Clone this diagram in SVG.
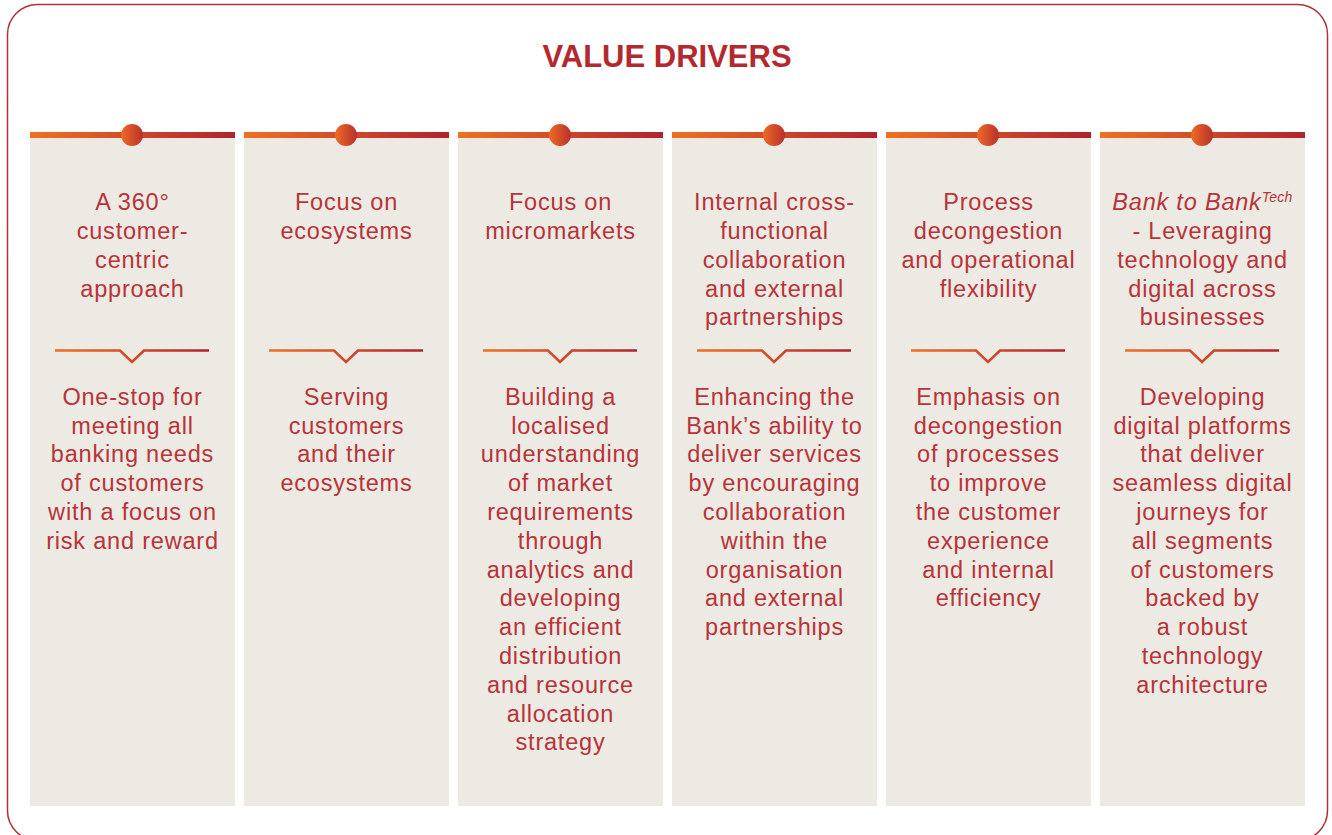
<svg xmlns="http://www.w3.org/2000/svg" width="1332" height="835" viewBox="0 0 1332 835">
<defs>
<linearGradient id="gBar" x1="0" y1="0" x2="1" y2="0">
<stop offset="0" stop-color="#F07022"/>
<stop offset="1" stop-color="#B0232F"/>
</linearGradient>
<linearGradient id="gDot" x1="0" y1="0" x2="1" y2="0">
<stop offset="0" stop-color="#EE6B24"/>
<stop offset="1" stop-color="#B8302E"/>
</linearGradient>
<style>
.panel{fill:#ECEAE3}
.bar{fill:url(#gBar)}
.dot{fill:url(#gDot)}
.chev{fill:none;stroke:url(#gBar);stroke-width:2.5}
.t{font-family:"Liberation Sans",Arial,sans-serif;font-size:23.5px;letter-spacing:0.8px;fill:#B8333A;text-anchor:middle}
.title{font-family:"Liberation Sans",Arial,sans-serif;font-size:31px;font-weight:bold;fill:#B22A30;text-anchor:middle}
</style>
</defs>
<rect x="0" y="0" width="1332" height="835" fill="#FFFFFF"/>
<rect x="7.5" y="4.5" width="1320" height="836" rx="30" ry="30" fill="none" stroke="#B0323A" stroke-width="1.5"/>
<text class="title" x="667" y="67">VALUE DRIVERS</text>

<g id="node1">
<rect class="panel" x="30" y="135" width="205" height="671"/>
<rect class="bar" x="30" y="132" width="205" height="6"/>
<circle class="dot" cx="132" cy="135" r="11"/>
<text class="t"><tspan x="132.5" y="210">A 360°</tspan><tspan x="132.5" y="239">customer-</tspan><tspan x="132.5" y="268">centric</tspan><tspan x="132.5" y="297">approach</tspan></text>
<path class="chev" d="M55 350.5 H120 L132 362 L144 350.5 H209"/>
<text class="t"><tspan x="132.5" y="405">One-stop for</tspan><tspan x="132.5" y="434">meeting all</tspan><tspan x="132.5" y="462">banking needs</tspan><tspan x="132.5" y="491">of customers</tspan><tspan x="132.5" y="520">with a focus on</tspan><tspan x="132.5" y="549">risk and reward</tspan></text>
</g>

<g id="node2">
<rect class="panel" x="244" y="135" width="205" height="671"/>
<rect class="bar" x="244" y="132" width="205" height="6"/>
<circle class="dot" cx="346" cy="135" r="11"/>
<text class="t"><tspan x="346.5" y="210">Focus on</tspan><tspan x="346.5" y="239">ecosystems</tspan></text>
<path class="chev" d="M269 350.5 H334 L346 362 L358 350.5 H423"/>
<text class="t"><tspan x="346.5" y="405">Serving</tspan><tspan x="346.5" y="434">customers</tspan><tspan x="346.5" y="462">and their</tspan><tspan x="346.5" y="491">ecosystems</tspan></text>
</g>

<g id="node3">
<rect class="panel" x="458" y="135" width="205" height="671"/>
<rect class="bar" x="458" y="132" width="205" height="6"/>
<circle class="dot" cx="560" cy="135" r="11"/>
<text class="t"><tspan x="560.5" y="210">Focus on</tspan><tspan x="560.5" y="239">micromarkets</tspan></text>
<path class="chev" d="M483 350.5 H548 L560 362 L572 350.5 H637"/>
<text class="t"><tspan x="560.5" y="405">Building a</tspan><tspan x="560.5" y="434">localised</tspan><tspan x="560.5" y="462">understanding</tspan><tspan x="560.5" y="491">of market</tspan><tspan x="560.5" y="520">requirements</tspan><tspan x="560.5" y="549">through</tspan><tspan x="560.5" y="578">analytics and</tspan><tspan x="560.5" y="606">developing</tspan><tspan x="560.5" y="635">an efficient</tspan><tspan x="560.5" y="664">distribution</tspan><tspan x="560.5" y="693">and resource</tspan><tspan x="560.5" y="722">allocation</tspan><tspan x="560.5" y="750">strategy</tspan></text>
</g>

<g id="node4">
<rect class="panel" x="672" y="135" width="205" height="671"/>
<rect class="bar" x="672" y="132" width="205" height="6"/>
<circle class="dot" cx="774" cy="135" r="11"/>
<text class="t"><tspan x="774.5" y="210">Internal cross-</tspan><tspan x="774.5" y="239">functional</tspan><tspan x="774.5" y="268">collaboration</tspan><tspan x="774.5" y="297">and external</tspan><tspan x="774.5" y="325">partnerships</tspan></text>
<path class="chev" d="M697 350.5 H762 L774 362 L786 350.5 H851"/>
<text class="t"><tspan x="774.5" y="405">Enhancing the</tspan><tspan x="774.5" y="434">Bank’s ability to</tspan><tspan x="774.5" y="462">deliver services</tspan><tspan x="774.5" y="491">by encouraging</tspan><tspan x="774.5" y="520">collaboration</tspan><tspan x="774.5" y="549">within the</tspan><tspan x="774.5" y="578">organisation</tspan><tspan x="774.5" y="606">and external</tspan><tspan x="774.5" y="635">partnerships</tspan></text>
</g>

<g id="node5">
<rect class="panel" x="886" y="135" width="205" height="671"/>
<rect class="bar" x="886" y="132" width="205" height="6"/>
<circle class="dot" cx="988" cy="135" r="11"/>
<text class="t"><tspan x="988.5" y="210">Process</tspan><tspan x="988.5" y="239">decongestion</tspan><tspan x="988.5" y="268">and operational</tspan><tspan x="988.5" y="297">flexibility</tspan></text>
<path class="chev" d="M911 350.5 H976 L988 362 L1000 350.5 H1065"/>
<text class="t"><tspan x="988.5" y="405">Emphasis on</tspan><tspan x="988.5" y="434">decongestion</tspan><tspan x="988.5" y="462">of processes</tspan><tspan x="988.5" y="491">to improve</tspan><tspan x="988.5" y="520">the customer</tspan><tspan x="988.5" y="549">experience</tspan><tspan x="988.5" y="578">and internal</tspan><tspan x="988.5" y="606">efficiency</tspan></text>
</g>

<g id="node6">
<rect class="panel" x="1100" y="135" width="205" height="671"/>
<rect class="bar" x="1100" y="132" width="205" height="6"/>
<circle class="dot" cx="1202" cy="135" r="11"/>
<text class="t"><tspan x="1202.5" y="210" font-style="italic">Bank to Bank<tspan font-size="14px" letter-spacing="0.3px" dy="-8">Tech</tspan></tspan><tspan x="1202.5" y="239">- Leveraging</tspan><tspan x="1202.5" y="268">technology and</tspan><tspan x="1202.5" y="297">digital across</tspan><tspan x="1202.5" y="325">businesses</tspan></text>
<path class="chev" d="M1125 350.5 H1190 L1202 362 L1214 350.5 H1279"/>
<text class="t"><tspan x="1202.5" y="405">Developing</tspan><tspan x="1202.5" y="434">digital platforms</tspan><tspan x="1202.5" y="462">that deliver</tspan><tspan x="1202.5" y="491">seamless digital</tspan><tspan x="1202.5" y="520">journeys for</tspan><tspan x="1202.5" y="549">all segments</tspan><tspan x="1202.5" y="578">of customers</tspan><tspan x="1202.5" y="606">backed by</tspan><tspan x="1202.5" y="635">a robust</tspan><tspan x="1202.5" y="664">technology</tspan><tspan x="1202.5" y="693">architecture</tspan></text>
</g>

<g id="connectors"></g>
</svg>
